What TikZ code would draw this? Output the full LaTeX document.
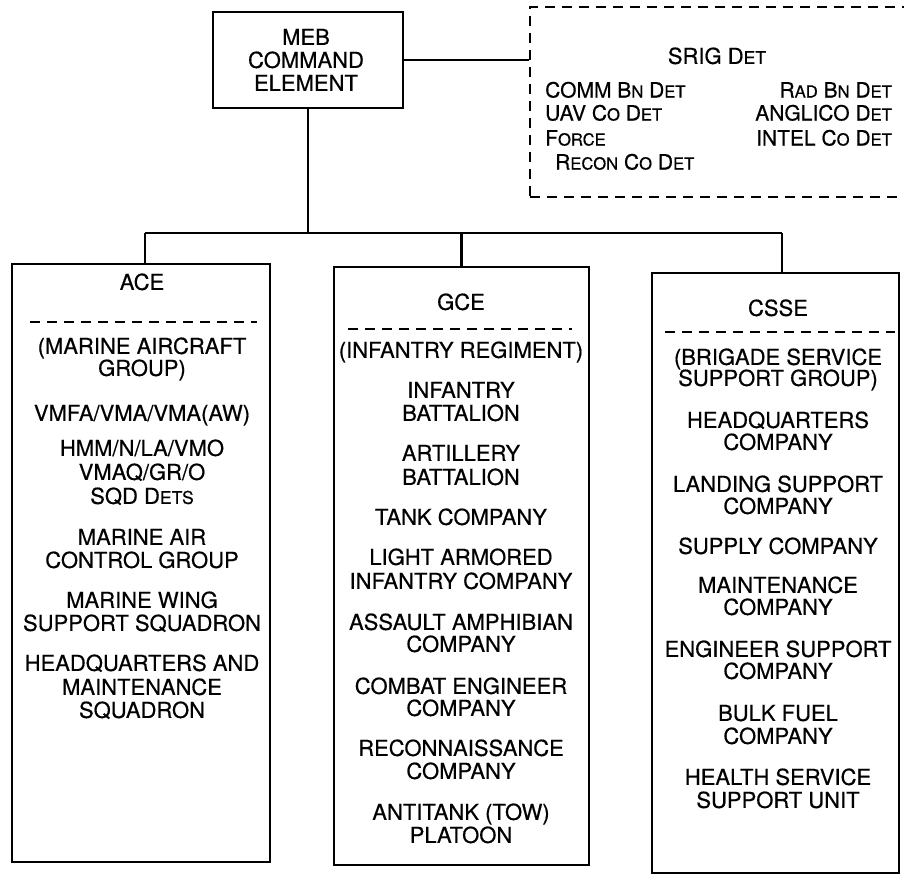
\documentclass[tikz,border=0pt]{standalone}
\usepackage{fontspec}
\setmainfont{TeX Gyre Heros}[FakeBold=0.5]
\newcommand\smA[1]{{\fontsize{17.6}{20}\selectfont #1}}
\newcommand\smB[1]{{\fontsize{16.6}{20}\selectfont #1}}
\begin{document}
\begin{tikzpicture}[x=1pt,y=-1pt,
  box/.style={draw, line width=2.3pt, inner sep=0pt},
  dbox/.style={draw, line width=1.6pt, dash pattern=on 10pt off 7pt, inner sep=0pt},
  wire/.style={line width=2.3pt},
  dline/.style={line width=1.6pt, dash pattern=on 10pt off 7pt},
  t/.style={inner sep=0pt, text height=15.8pt, text depth=0pt, font=\fontsize{22}{24}\selectfont},
  s/.style={inner sep=0pt, text height=15pt, text depth=0pt, font=\fontsize{21}{24}\selectfont}]
\useasboundingbox (0,0) rectangle (904,875);
\clip (0,0) rectangle (904,875);

% boxes
\node[box, minimum width=190pt, minimum height=96pt] (meb) at (308,60) {};
\node[dbox, minimum width=385pt, minimum height=190pt] (srig) at (722.5,102) {};
\node[box, minimum width=258pt, minimum height=598pt] (ace) at (141,563) {};
\node[box, minimum width=255pt, minimum height=598pt] (gce) at (461.5,566) {};
\node[box, minimum width=247pt, minimum height=600pt] (csse) at (775.5,573) {};

% connectors
\coordinate (bl) at (145,233);
\coordinate (br) at (782,233);
\draw[wire] (meb.east) -- (meb.east -| srig.west);
\draw[wire] (meb.south) -- (meb.south |- bl);
\draw[wire] (bl) -- (br);
\draw[wire] (bl) -- (bl |- ace.north);
\draw[wire] (gce.north |- bl) -- (gce.north);
\draw[wire] (br) -- (br |- csse.north);

% dashed separators
\draw[dline] (30,322) -- (257,322);
\draw[dline] (348,329) -- (572,329);
\draw[dline] (665,332) -- (895,332);

% MEB
\node[t] (m1) at (306,37) {MEB};
\node[t] (m2) at (306,60) {COMMAND};
\node[t] (m3) at (306,83) {ELEMENT};

% SRIG
\node[t] (s0) at (717,56) {SRIG D\smA{ET}};
\node[s, anchor=west] (s1) at (545,90) {COMM B\smB{N} D\smB{ET}};
\node[s, anchor=west] (s2) at (545,113) {UAV C\smB{O} D\smB{ET}};
\node[s, anchor=west] (s3) at (545,138) {F\smB{ORCE}};
\node[s, anchor=west] (s4) at (555,162) {R\smB{ECON} C\smB{O} D\smB{ET}};
\node[s, anchor=east] (s5) at (892,90) {R\smB{AD} B\smB{N} D\smB{ET}};
\node[s, anchor=east] (s6) at (892,113) {ANGLICO D\smB{ET}};
\node[s, anchor=east] (s7) at (892,138) {INTEL C\smB{O} D\smB{ET}};

% ACE
\node[t] (a1) at (142,282) {ACE};
\node[t] (a2) at (142,346) {(MARINE AIRCRAFT};
\node[t] (a3) at (142,368) {GROUP)};
\node[t] (a4) at (142,413) {VMFA/VMA/VMA(AW)};
\node[t] (a5) at (142,448) {HMM/N/LA/VMO};
\node[t] (a6) at (142,472) {VMAQ/GR/O};
\node[t] (a7) at (142,496) {SQD D\smA{ETS}};
\node[t] (a8) at (142,537) {MARINE AIR};
\node[t] (a9) at (142,560) {CONTROL GROUP};
\node[t] (a10) at (142,600) {MARINE WING};
\node[t] (a11) at (142,623) {SUPPORT SQUADRON};
\node[t] (a12) at (142,663) {HEADQUARTERS AND};
\node[t] (a13) at (142,687) {MAINTENANCE};
\node[t] (a14) at (142,710) {SQUADRON};

% GCE
\node[t] (g1) at (461,302) {GCE};
\node[t] (g2) at (461,350) {(INFANTRY REGIMENT)};
\node[t] (g3) at (461,390) {INFANTRY};
\node[t] (g4) at (461,413) {BATTALION};
\node[t] (g5) at (461,453) {ARTILLERY};
\node[t] (g6) at (461,477) {BATTALION};
\node[t] (g7) at (461,517) {TANK COMPANY};
\node[t] (g8) at (461,557) {LIGHT ARMORED};
\node[t] (g9) at (461,581) {INFANTRY COMPANY};
\node[t] (g10) at (461,622) {ASSAULT AMPHIBIAN};
\node[t] (g11) at (461,644) {COMPANY};
\node[t] (g12) at (461,686) {COMBAT ENGINEER};
\node[t] (g13) at (461,708) {COMPANY};
\node[t] (g14) at (461,748) {RECONNAISSANCE};
\node[t] (g15) at (461,771) {COMPANY};
\node[t] (g16) at (461,812) {ANTITANK (TOW)};
\node[t] (g17) at (461,835) {PLATOON};

% CSSE
\node[t] (c1) at (778,308) {CSSE};
\node[t] (c2) at (778,357) {(BRIGADE SERVICE};
\node[t] (c3) at (778,378) {SUPPORT GROUP)};
\node[t] (c4) at (778,420) {HEADQUARTERS};
\node[t] (c5) at (778,442) {COMPANY};
\node[t] (c6) at (778,484) {LANDING SUPPORT};
\node[t] (c7) at (778,506) {COMPANY};
\node[t] (c8) at (778,546) {SUPPLY COMPANY};
\node[t] (c9) at (778,585) {MAINTENANCE};
\node[t] (c10) at (778,607) {COMPANY};
\node[t] (c11) at (778,649) {ENGINEER SUPPORT};
\node[t] (c12) at (778,671) {COMPANY};
\node[t] (c13) at (778,713) {BULK FUEL};
\node[t] (c14) at (778,736) {COMPANY};
\node[t] (c15) at (778,777) {HEALTH SERVICE};
\node[t] (c16) at (778,800) {SUPPORT UNIT};
\end{tikzpicture}
\end{document}
